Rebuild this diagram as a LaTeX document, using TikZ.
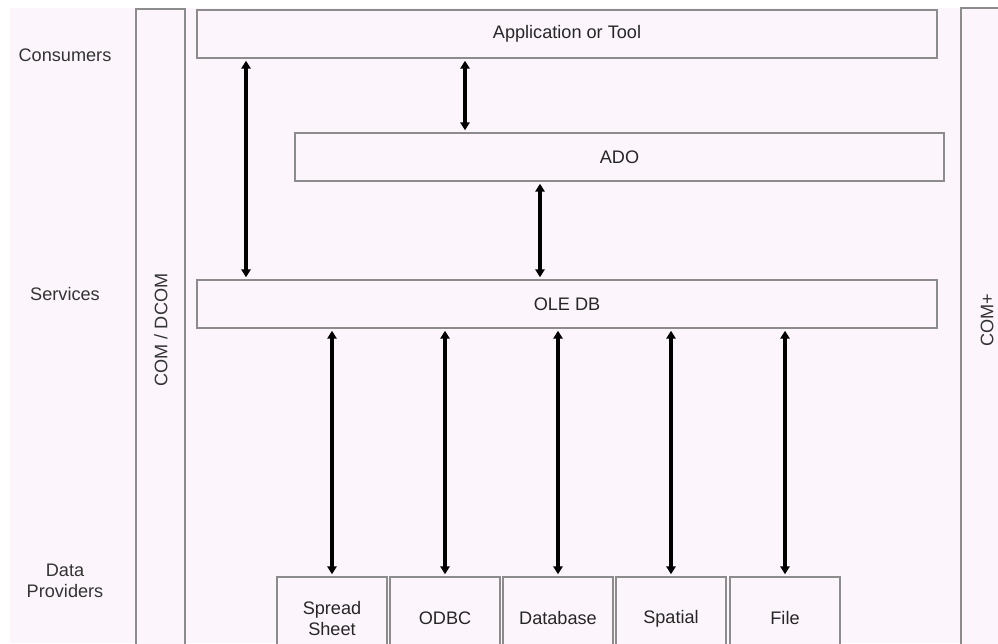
\documentclass[tikz,border=0pt]{standalone}
\usepackage{fontspec}
\setmainfont{Liberation Sans}
\usetikzlibrary{arrows.meta}
\definecolor{bgpink}{HTML}{FCF6FC}
\definecolor{edgegray}{HTML}{8C8C8C}
\tikzset{
  box/.style={draw=edgegray, line width=1.1pt, fill=bgpink, inner sep=0pt, font=\fontsize{13.6}{16}\selectfont, align=center, text=black!85},
  lbl/.style={font=\fontsize{13.6}{16}\selectfont, align=center, inner sep=0pt, text=black!80},
  link/.style={line width=2.4pt, {Triangle[length=6pt,width=7pt]}-{Triangle[length=6pt,width=7pt]}, shorten <=1.5pt, shorten >=1.5pt}
}
\begin{document}
\begin{tikzpicture}[x=0.75pt, y=-0.75pt]
\useasboundingbox (0,0) rectangle (998,643);
\clip (0,0) rectangle (998,643);
\fill[white] (0,0) rectangle (998,643);
\fill[bgpink] (10,8) rectangle (998,643);
% side columns
\node[box, minimum width={49*0.75pt}, minimum height={651*0.75pt}] (comdcom) at (160.5,334.5) {};
\node[box, minimum width={49*0.75pt}, minimum height={652*0.75pt}] (complus) at (985.5,334) {};
\node[lbl, rotate=90] (comdcomtxt) at (161,330) {COM / DCOM};
\node[lbl, rotate=90] (complustxt) at (987,320) {COM+};
% row labels
\node[lbl] (consumers) at (65,55) {Consumers};
\node[lbl] (services) at (65,294) {Services};
\node[lbl] (dataprov) at (65,581) {Data\\Providers};
% main boxes
\node[box, minimum width={740*0.75pt}, minimum height={48*0.75pt}] (app) at (567,34) {Application or Tool};
\node[box, minimum width={649*0.75pt}, minimum height={48*0.75pt}] (ado) at (619.5,157) {ADO};
\node[box, minimum width={740*0.75pt}, minimum height={48*0.75pt}] (ole) at (567,304) {OLE DB};
% providers
\node[box, minimum width={110*0.75pt}, minimum height={83*0.75pt}] (spread) at (332,618.5) {Spread\\Sheet};
\node[box, minimum width={110*0.75pt}, minimum height={83*0.75pt}] (odbc) at (445,618.5) {ODBC};
\node[box, minimum width={110*0.75pt}, minimum height={83*0.75pt}] (database) at (558,618.5) {Database};
\node[box, minimum width={110*0.75pt}, minimum height={83*0.75pt}] (spatial) at (671,618.5) {Spatial};
\node[box, minimum width={110*0.75pt}, minimum height={83*0.75pt}] (file) at (785,618.5) {File};
% connectors
\coordinate (leftx) at (246,0);
\draw[link] (app.south -| leftx) -- (ole.north -| leftx);
\coordinate (appadox) at (465,0);
\draw[link] (app.south -| appadox) -- (ado.north -| appadox);
\coordinate (adoolex) at (540,0);
\draw[link] (ado.south -| adoolex) -- (ole.north -| adoolex);
\foreach \p in {spread,odbc,database,spatial,file}{
  \draw[link] (ole.south -| \p.north) -- (\p.north);
}
\end{tikzpicture}
\end{document}
